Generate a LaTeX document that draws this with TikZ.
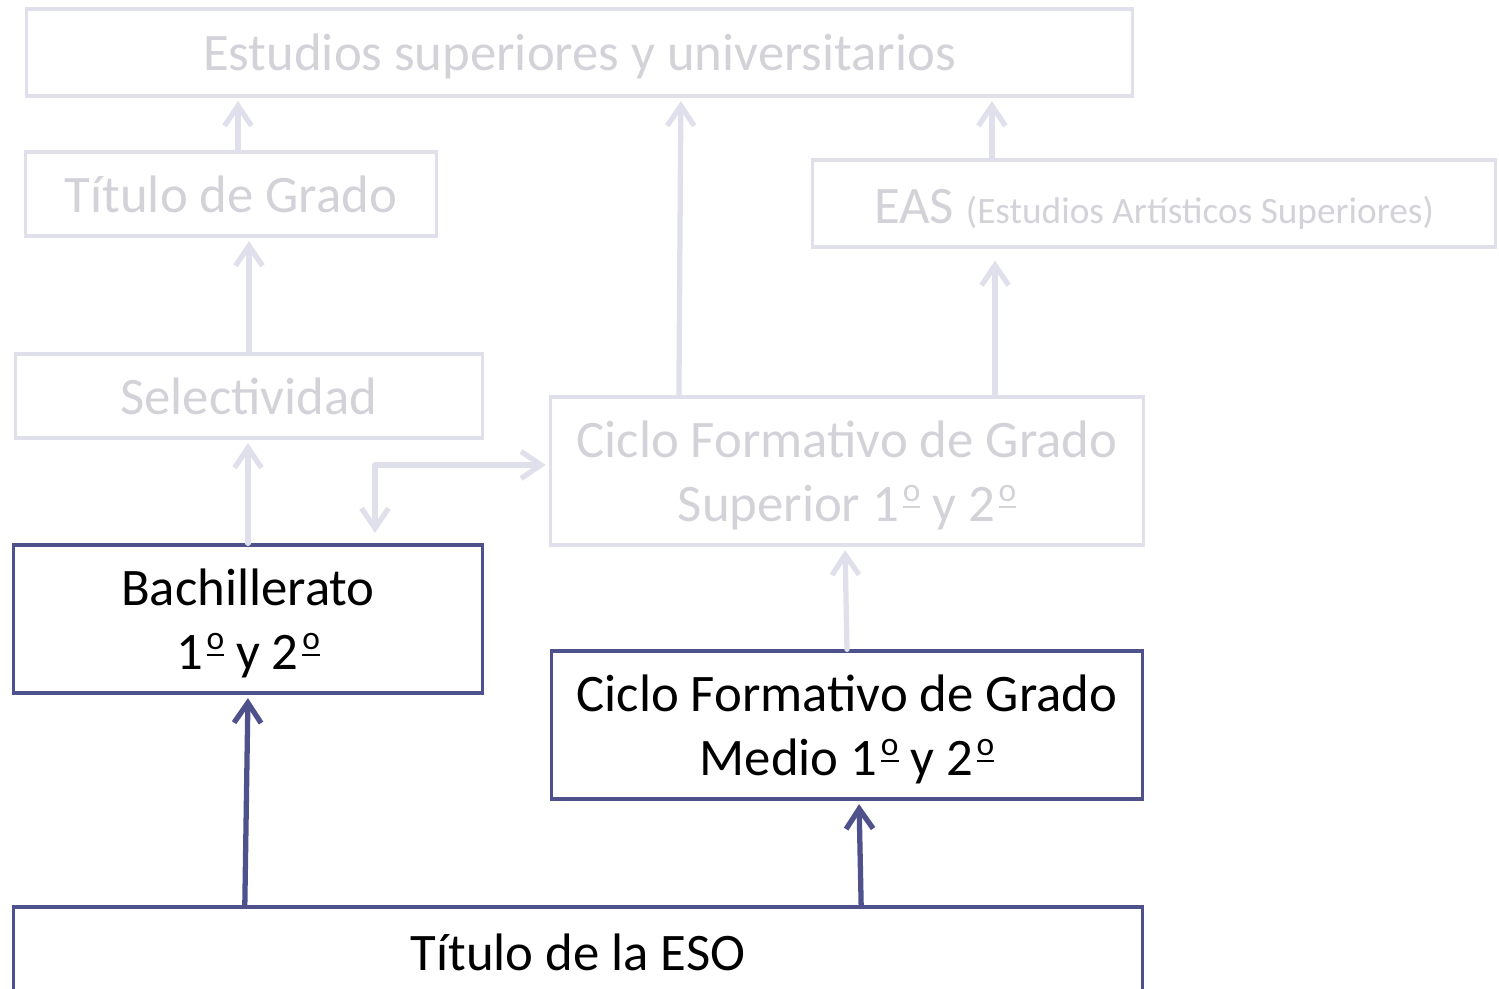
\documentclass[tikz,border=0pt]{standalone}
\usepackage{fontspec}
\setmainfont{Carlito}
\usetikzlibrary{arrows.meta}

\definecolor{darkline}{RGB}{79,81,140}
\definecolor{paleline}{RGB}{224,224,236}
\definecolor{paletext}{RGB}{210,210,216}

% ordinal with underline, as in the original slide
\newcommand{\ordo}{\kern0.07em\raisebox{0.37em}{\fontsize{9.5}{9.5}\selectfont\underline{o}}}
\newcommand{\topstrut}{\rule{0pt}{0.86em}}

\begin{document}
\begin{tikzpicture}[x=0.01cm,y=-0.01cm,
	>={Straight Barb[length=2mm,width=2.7mm]},
	pale/.style={draw=paleline, line width=0.9pt, text=paletext, align=center, inner sep=0pt,
		font=\fontsize{15}{18.1}\selectfont},
	dark/.style={draw=darkline, line width=0.9pt, text=black, align=center, inner sep=0pt,
		font=\fontsize{15}{18.1}\selectfont},
	palearrow/.style={draw=paleline, line width=1.5pt, line cap=round, line join=round, ->, shorten >=1pt},
	darkarrow/.style={draw=darkline, line width=1.5pt, line cap=round, line join=round, ->, shorten >=1pt}]

	\useasboundingbox (0,0) rectangle (1499,989);

	\node[pale, minimum width=11.05cm, minimum height=0.87cm] (sup) at (579.5,52.5) {\topstrut Estudios superiores y universitarios};
	\node[pale, minimum width=4.10cm, minimum height=0.84cm] (grado) at (231,194) {Título de Grado};
	\node[pale, minimum width=6.82cm, minimum height=0.87cm] (eas) at (1154,203.5) {\topstrut EAS {\fontsize{10.6}{13}\selectfont (Estudios Artísticos Superiores)}};
	\node[pale, minimum width=4.66cm, minimum height=0.84cm] (selec) at (249,396) {Selectividad};
	\node[pale, minimum width=5.92cm, minimum height=1.48cm] (cfgs) at (847,471) {\topstrut Ciclo Formativo de Grado\\Superior 1\ordo{} y 2\ordo};
	\node[dark, minimum width=4.68cm, minimum height=1.48cm] (bach) at (248,619) {\topstrut Bachillerato\\1\ordo{} y 2\ordo};
	\node[dark, minimum width=5.90cm, minimum height=1.48cm] (cfgm) at (847,725) {\topstrut Ciclo Formativo de Grado\\Medio 1\ordo{} y 2\ordo};
	\node[dark, minimum width=11.28cm, minimum height=0.90cm] (eso) at (578,952) {Título de la ESO};

	\coordinate (bifurca) at (375,533);

	% rutas ya pasadas
	\draw[palearrow] (bach.north) -- (bach.north |- selec.south);
	\draw[palearrow] (selec.north) -- (selec.north |- grado.south);
	\draw[palearrow] ([xshift=0.07cm]grado.north) -- ([xshift=0.07cm]grado.north |- sup.south);
	\draw[palearrow] ([xshift=-1.68cm]cfgs.north) -- ([xshift=-1.66cm]cfgs.north |- sup.south);
	\draw[palearrow, shorten >=0.12cm] ([xshift=1.48cm]cfgs.north) -- ([xshift=1.48cm]cfgs.north |- eas.south);
	\draw[palearrow] ([xshift=-1.62cm]eas.north) -- ([xshift=-1.62cm]eas.north |- sup.south);
	\draw[palearrow] (cfgm.north) -- ([xshift=-0.02cm]cfgs.south);
	\draw[palearrow, <->] (bifurca) |- ([yshift=0.06cm]cfgs.west);

	% rutas desde la ESO
	\draw[darkarrow] ([xshift=-3.33cm]eso.north) -- (bach.south);
	\draw[darkarrow] ([xshift=2.83cm]eso.north) -- ([xshift=0.12cm]cfgm.south);

\end{tikzpicture}
\end{document}
